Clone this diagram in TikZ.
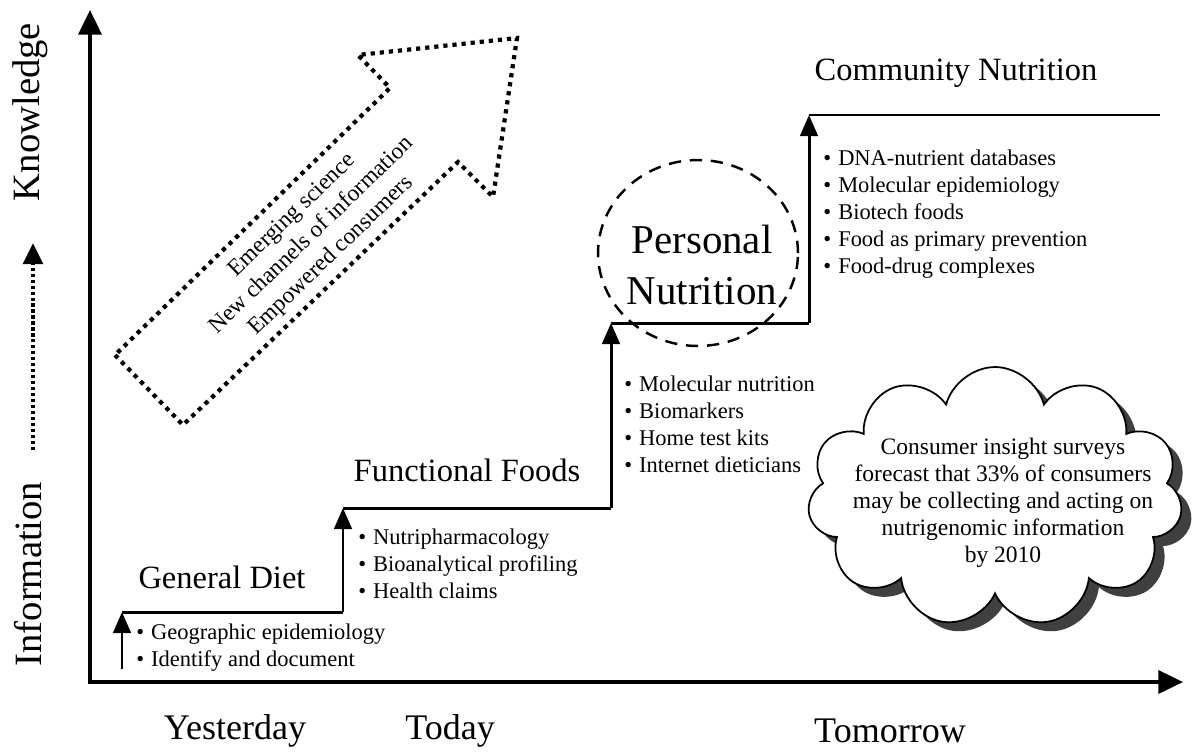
\documentclass[tikz,border=0pt]{standalone}
\usepackage{fontspec}
\setmainfont{Liberation Serif}
\usetikzlibrary{arrows.meta,shapes.symbols,shapes.geometric,shadows}

\newcommand{\bul}{\textbullet\hspace{4pt}}

\begin{document}
\begin{tikzpicture}[x=0.02cm, y=-0.02cm,
    axis/.style = {line width=2.3pt, line cap=rect, -{Triangle[width=13pt,length=14pt]}},
    stair/.style = {line width=1.7pt},
    riser/.style = {line width=1.7pt, -{Triangle[width=10pt,length=12pt]}},
    phase/.style = {font=\fontsize{18.5}{22}\selectfont},
    era/.style = {font=\fontsize{20.5}{24}\selectfont},
    side/.style = {font=\fontsize{22}{26}\selectfont, rotate=90},
    items/.style = {font=\fontsize{12.8}{15.4}\selectfont, align=left, anchor=west, inner sep=0pt},
    dotbig/.style = {line width=2.4pt, dash pattern=on 2.4pt off 2.8pt},
    ring/.style = {draw, dashed, ellipse, line width=1.4pt, dash pattern=on 7pt off 5pt,
                   minimum width=4cm, minimum height=3.72cm, inner sep=0pt}]
\useasboundingbox (0,0) rectangle (1193,751);

% axes
\coordinate (origin) at (90,682);
\coordinate (ytop) at (90,10);
\coordinate (xend) at (1183,682);
\draw[axis] (origin) -- (ytop);
\draw[axis] (origin) -- (xend);

\node[side] (know) at (30,112) {Knowledge};
\node[side] (info) at (28,574) {Information};
\coordinate (d0) at (33,450);
\coordinate (d1) at (33,243);
\draw[line width=2.4pt, dash pattern=on 1.8pt off 1.6pt, -{Triangle[width=11pt,length=12pt]}] (d0) -- (d1);

\node[era] (yest) at (235,731) {Yesterday};
\node[era] (today) at (450,731) {Today};
\node[era] (tomor) at (890,731) {Tomorrow};

% staircase
\coordinate (s0) at (122,669);
\coordinate (s1) at (122,612);
\coordinate (s1r) at (343,612);
\coordinate (s2) at (343,508);
\coordinate (s2r) at (611,508);
\coordinate (s3) at (611,323);
\coordinate (s3r) at (809,323);
\coordinate (s4) at (809,115);
\coordinate (s4r) at (1160,115);
\draw[riser] (s0) -- (s1);
\draw[riser] (s1r) -- (s2);
\draw[riser] (s2r) -- (s3);
\draw[riser] (s3r) -- (s4);
\draw[stair] (s1) -- (s1r);
\draw[stair] (s2) -- (s2r);
\draw[stair] (s3) -- (s3r);
\draw[stair] (s4) -- (s4r);

\node[phase] (gdiet) at (222,577) {General Diet};
\node[phase] (ffoods) at (467,470) {Functional Foods};
\node[phase] (cnutr) at (956,73) {Community Nutrition};
\node[ring] (pring) at (698,253) {};
\node[font=\fontsize{23.3}{28.5}\selectfont, align=center] (pnutr) at (702,265) {Personal\\Nutrition};

\node[items] (glist) at (136,648) {\bul Geographic epidemiology\\\bul Identify and document};
\node[items] (flist) at (358,564) {\bul Nutripharmacology\\\bul Bioanalytical profiling\\\bul Health claims};
\node[items] (plist) at (624,424) {\bul Molecular nutrition\\\bul Biomarkers\\\bul Home test kits\\\bul Internet dieticians};
\node[items] (clist) at (823,214) {\bul DNA-nutrient databases\\\bul Molecular epidemiology\\\bul Biotech foods\\\bul Food as primary prevention\\\bul Food-drug complexes};

% trend arrow
\coordinate (a1) at (115,355);
\coordinate (a2) at (183,425);
\coordinate (a3) at (458,162);
\coordinate (a4) at (493,197);
\coordinate (a5) at (517,38);
\coordinate (a6) at (358,55);
\coordinate (a7) at (390,88);
\draw[dotbig] (a1) -- (a2) -- (a3) -- (a4) -- (a5) -- (a6) -- (a7) -- cycle;
\node[font=\fontsize{13.3}{16}\selectfont, align=center, rotate=44] (trend) at (312,236)
  {Emerging science\\New channels of information\\Empowered consumers};

% forecast cloud
\node[cloud, cloud puffs=11, cloud ignores aspect, draw, line width=1pt, fill=white,
      minimum width=7.5cm, minimum height=5.2cm,
      drop shadow={shadow xshift=0.2cm, shadow yshift=-0.18cm, fill=black!75, opacity=1}] (cloud) at (995,497) {};
\node[font=\fontsize{13.4}{15.4}\selectfont, align=center] (ctext) at (1003,503)
  {Consumer insight surveys\\forecast that 33\% of consumers\\may be collecting and acting on\\nutrigenomic information\\by 2010};
\end{tikzpicture}
\end{document}
